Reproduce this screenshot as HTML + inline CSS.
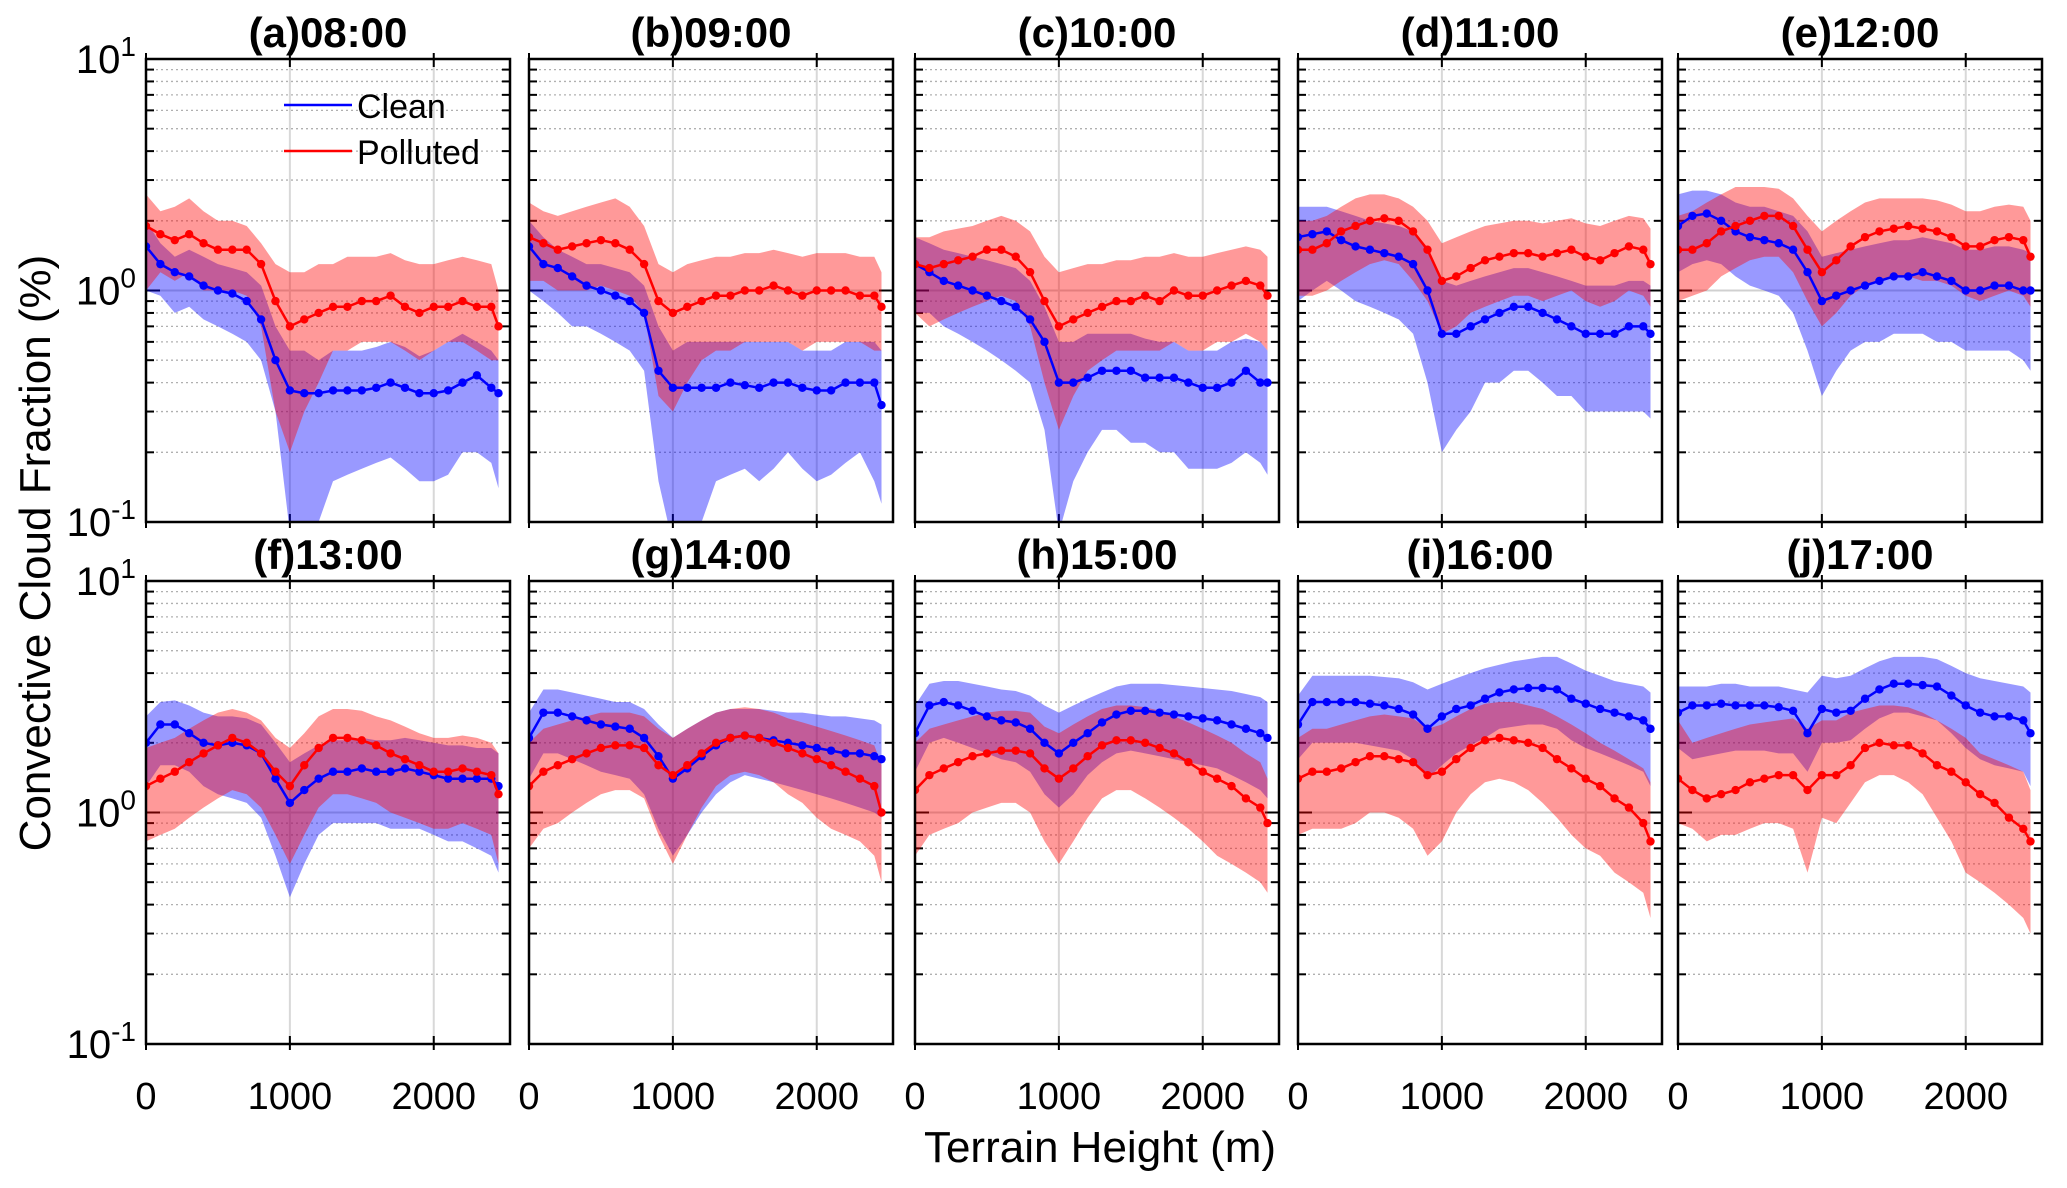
<!DOCTYPE html>
<html><head><meta charset="utf-8"><style>
body{margin:0;background:#fff}
svg{display:block;font-family:"Liberation Sans",Arial,sans-serif}
</style></head><body>
<svg id="chart" width="2067" height="1188" viewBox="0 0 2067 1188" xmlns="http://www.w3.org/2000/svg"></svg>
<script>
const heights=[0,100,200,300,400,500,600,700,800,900,1000,1100,1200,1300,1400,1500,1600,1700,1800,1900,2000,2100,2200,2300,2400,2450];
const titles=["(a)08:00","(b)09:00","(c)10:00","(d)11:00","(e)12:00","(f)13:00","(g)14:00","(h)15:00","(i)16:00","(j)17:00"];
const xTicks=[0,1000,2000];
const yTickLabels=["10","10","10"];
const yTickExp=["1","0","-1"];
const cleanMean=[
[1.55,1.3,1.2,1.15,1.05,1.0,0.97,0.9,0.75,0.5,0.37,0.36,0.36,0.37,0.37,0.37,0.38,0.4,0.38,0.36,0.36,0.37,0.4,0.43,0.38,0.36],
[1.55,1.3,1.25,1.15,1.05,1.0,0.95,0.9,0.8,0.45,0.38,0.38,0.38,0.38,0.4,0.39,0.38,0.4,0.4,0.38,0.37,0.37,0.4,0.4,0.4,0.32],
[1.3,1.2,1.1,1.05,1.0,0.95,0.9,0.85,0.75,0.6,0.4,0.4,0.42,0.45,0.45,0.45,0.42,0.42,0.42,0.4,0.38,0.38,0.4,0.45,0.4,0.4],
[1.7,1.75,1.8,1.65,1.55,1.5,1.45,1.4,1.3,1.0,0.65,0.65,0.7,0.75,0.8,0.85,0.85,0.8,0.75,0.7,0.65,0.65,0.65,0.7,0.7,0.65],
[1.9,2.1,2.15,2.0,1.8,1.7,1.65,1.6,1.5,1.2,0.9,0.95,1.0,1.05,1.1,1.15,1.15,1.2,1.15,1.1,1.0,1.0,1.05,1.05,1.0,1.0],
[2.0,2.4,2.4,2.2,2.0,1.95,2.0,1.95,1.8,1.4,1.1,1.25,1.4,1.5,1.5,1.55,1.5,1.5,1.55,1.5,1.45,1.4,1.4,1.4,1.4,1.3],
[2.1,2.7,2.7,2.6,2.5,2.4,2.35,2.3,2.1,1.75,1.4,1.55,1.75,1.95,2.1,2.15,2.1,2.05,2.0,1.95,1.9,1.85,1.8,1.8,1.75,1.7],
[2.2,2.9,3.0,2.9,2.75,2.6,2.5,2.45,2.3,2.0,1.8,2.0,2.2,2.45,2.65,2.75,2.75,2.7,2.65,2.6,2.55,2.5,2.4,2.3,2.2,2.1],
[2.4,3.0,3.0,3.0,3.0,2.95,2.9,2.8,2.65,2.3,2.6,2.8,2.9,3.1,3.3,3.4,3.45,3.45,3.4,3.1,2.95,2.8,2.7,2.6,2.5,2.3],
[2.7,2.9,2.9,2.95,2.9,2.9,2.9,2.85,2.75,2.2,2.8,2.7,2.75,3.1,3.4,3.6,3.6,3.55,3.5,3.2,2.9,2.7,2.6,2.6,2.5,2.2]];
const cleanLo=[
[1.0,0.95,0.8,0.85,0.75,0.7,0.65,0.6,0.5,0.3,0.09,0.08,0.1,0.15,0.16,0.17,0.18,0.19,0.17,0.15,0.15,0.16,0.2,0.2,0.18,0.14],
[1.0,0.9,0.8,0.7,0.7,0.65,0.6,0.55,0.45,0.15,0.08,0.08,0.1,0.15,0.16,0.17,0.15,0.17,0.2,0.17,0.15,0.16,0.18,0.2,0.15,0.12],
[0.8,0.8,0.7,0.65,0.6,0.55,0.5,0.45,0.4,0.25,0.09,0.15,0.2,0.25,0.25,0.22,0.22,0.2,0.2,0.17,0.17,0.17,0.18,0.2,0.18,0.16],
[0.9,1.0,1.1,1.0,0.9,0.85,0.8,0.75,0.65,0.4,0.2,0.25,0.3,0.4,0.4,0.45,0.45,0.4,0.35,0.35,0.3,0.3,0.3,0.3,0.3,0.28],
[1.2,1.3,1.35,1.3,1.15,1.05,1.0,0.95,0.8,0.55,0.35,0.45,0.55,0.6,0.6,0.65,0.65,0.65,0.6,0.6,0.55,0.55,0.55,0.55,0.5,0.45],
[1.3,1.6,1.6,1.5,1.3,1.2,1.15,1.1,0.95,0.65,0.43,0.6,0.8,0.9,0.9,0.9,0.9,0.85,0.85,0.85,0.8,0.75,0.75,0.7,0.65,0.55],
[1.4,1.8,1.8,1.7,1.6,1.5,1.45,1.4,1.2,0.85,0.65,0.8,1.0,1.2,1.35,1.45,1.4,1.35,1.3,1.25,1.2,1.15,1.1,1.05,1.0,0.95],
[1.5,2.0,2.1,2.0,1.9,1.8,1.7,1.65,1.5,1.2,1.05,1.2,1.45,1.65,1.8,1.85,1.8,1.75,1.7,1.65,1.6,1.55,1.45,1.35,1.25,1.15],
[1.7,2.0,2.0,2.0,2.0,1.95,1.9,1.85,1.7,1.4,1.6,1.8,1.95,2.1,2.3,2.35,2.4,2.4,2.3,2.05,1.9,1.8,1.7,1.6,1.5,1.3],
[1.9,1.7,1.75,1.8,1.85,1.85,1.85,1.8,1.8,1.5,2.0,2.0,2.05,2.3,2.55,2.7,2.7,2.6,2.5,2.2,1.9,1.7,1.6,1.55,1.5,1.3]];
const cleanHi=[
[2.0,1.6,1.4,1.5,1.4,1.3,1.25,1.2,1.05,0.7,0.55,0.55,0.5,0.55,0.55,0.55,0.57,0.6,0.57,0.52,0.55,0.6,0.65,0.6,0.55,0.5],
[2.0,1.7,1.5,1.4,1.3,1.3,1.25,1.2,1.05,0.7,0.55,0.6,0.6,0.6,0.6,0.6,0.6,0.6,0.6,0.55,0.55,0.55,0.6,0.6,0.6,0.55],
[1.7,1.6,1.5,1.45,1.4,1.35,1.3,1.25,1.1,0.85,0.6,0.6,0.65,0.65,0.65,0.65,0.62,0.6,0.6,0.55,0.55,0.55,0.6,0.62,0.6,0.55],
[2.3,2.3,2.3,2.2,2.1,2.0,1.95,1.9,1.8,1.5,1.1,1.05,1.1,1.15,1.2,1.25,1.25,1.2,1.15,1.1,1.05,1.05,1.05,1.1,1.1,1.05],
[2.6,2.7,2.7,2.6,2.4,2.3,2.3,2.2,2.1,1.8,1.4,1.45,1.5,1.55,1.6,1.65,1.65,1.7,1.65,1.6,1.5,1.5,1.55,1.55,1.5,1.45],
[2.6,3.0,3.05,2.9,2.7,2.6,2.6,2.55,2.4,2.0,1.65,1.8,1.95,2.05,2.05,2.1,2.05,2.05,2.1,2.05,2.0,1.95,1.95,1.9,1.9,1.8],
[2.7,3.4,3.4,3.3,3.2,3.1,3.0,3.0,2.8,2.4,2.1,2.3,2.5,2.7,2.8,2.8,2.8,2.75,2.7,2.7,2.65,2.6,2.6,2.55,2.5,2.4],
[2.9,3.6,3.7,3.7,3.6,3.5,3.4,3.35,3.2,2.9,2.7,2.9,3.1,3.3,3.5,3.6,3.6,3.6,3.55,3.5,3.45,3.4,3.35,3.25,3.15,3.0],
[3.2,3.9,3.9,3.9,3.9,3.9,3.85,3.8,3.65,3.4,3.6,3.8,4.0,4.2,4.35,4.5,4.6,4.7,4.7,4.4,4.1,3.9,3.7,3.6,3.5,3.3],
[3.5,3.5,3.5,3.6,3.6,3.5,3.5,3.5,3.4,3.3,3.9,3.8,3.9,4.2,4.5,4.7,4.7,4.7,4.6,4.3,4.0,3.8,3.7,3.6,3.5,3.3]];
const polMean=[
[1.9,1.75,1.65,1.75,1.6,1.5,1.5,1.5,1.3,0.9,0.7,0.75,0.8,0.85,0.85,0.9,0.9,0.95,0.85,0.8,0.85,0.85,0.9,0.85,0.85,0.7],
[1.7,1.6,1.5,1.55,1.6,1.65,1.6,1.5,1.3,0.9,0.8,0.85,0.9,0.95,0.95,1.0,1.0,1.05,1.0,0.95,1.0,1.0,1.0,0.95,0.95,0.85],
[1.3,1.25,1.3,1.35,1.4,1.5,1.5,1.4,1.2,0.9,0.7,0.75,0.8,0.85,0.9,0.9,0.95,0.9,1.0,0.95,0.95,1.0,1.05,1.1,1.05,0.95],
[1.5,1.5,1.6,1.8,1.9,2.0,2.05,2.0,1.8,1.5,1.1,1.15,1.25,1.35,1.4,1.45,1.45,1.4,1.45,1.5,1.4,1.35,1.45,1.55,1.5,1.3],
[1.5,1.5,1.6,1.8,1.9,2.0,2.1,2.1,1.9,1.5,1.2,1.35,1.55,1.7,1.8,1.85,1.9,1.85,1.8,1.7,1.55,1.55,1.65,1.7,1.65,1.4],
[1.3,1.4,1.5,1.65,1.8,1.95,2.1,2.0,1.8,1.5,1.3,1.6,1.9,2.1,2.1,2.05,1.95,1.8,1.7,1.6,1.5,1.5,1.55,1.5,1.45,1.2],
[1.3,1.5,1.6,1.7,1.8,1.9,1.95,1.95,1.9,1.6,1.45,1.6,1.8,2.0,2.1,2.15,2.1,2.0,1.9,1.8,1.7,1.6,1.5,1.4,1.3,1.0],
[1.25,1.45,1.55,1.65,1.75,1.8,1.85,1.85,1.8,1.55,1.4,1.55,1.75,1.95,2.05,2.05,2.0,1.9,1.8,1.65,1.5,1.4,1.3,1.15,1.05,0.9],
[1.4,1.5,1.5,1.55,1.65,1.75,1.75,1.7,1.65,1.45,1.5,1.7,1.9,2.05,2.1,2.05,2.0,1.9,1.7,1.55,1.4,1.3,1.15,1.05,0.9,0.75],
[1.4,1.25,1.15,1.2,1.25,1.35,1.4,1.45,1.45,1.25,1.45,1.45,1.6,1.9,2.0,1.95,1.95,1.8,1.6,1.5,1.35,1.2,1.1,0.95,0.85,0.75]];
const polLo=[
[1.0,1.2,1.1,1.2,1.0,1.0,1.0,0.95,0.7,0.3,0.2,0.3,0.4,0.55,0.55,0.6,0.6,0.6,0.55,0.5,0.55,0.6,0.6,0.55,0.5,0.5],
[1.1,1.1,1.0,1.0,1.0,1.05,1.0,0.95,0.8,0.35,0.3,0.4,0.5,0.55,0.55,0.6,0.6,0.6,0.6,0.55,0.6,0.6,0.6,0.6,0.55,0.55],
[0.8,0.7,0.75,0.8,0.85,0.9,0.95,0.9,0.7,0.4,0.25,0.35,0.45,0.5,0.55,0.55,0.55,0.55,0.6,0.55,0.55,0.6,0.6,0.65,0.6,0.55],
[0.95,0.95,1.0,1.1,1.2,1.3,1.35,1.3,1.1,0.9,0.65,0.7,0.8,0.85,0.9,0.95,0.95,0.9,0.95,1.0,0.9,0.85,0.9,1.0,0.95,0.85],
[0.9,0.95,1.0,1.15,1.25,1.35,1.4,1.4,1.2,0.9,0.7,0.8,0.95,1.05,1.1,1.15,1.15,1.1,1.1,1.05,0.95,0.9,0.95,1.0,0.95,0.85],
[0.75,0.8,0.85,0.95,1.05,1.15,1.25,1.2,1.05,0.8,0.6,0.8,1.05,1.2,1.2,1.15,1.1,1.0,0.95,0.9,0.85,0.85,0.9,0.85,0.8,0.6],
[0.7,0.85,0.9,1.0,1.1,1.2,1.25,1.25,1.15,0.8,0.6,0.8,1.05,1.3,1.45,1.5,1.45,1.35,1.2,1.1,0.95,0.85,0.8,0.75,0.65,0.5],
[0.65,0.8,0.85,0.9,1.0,1.05,1.1,1.1,1.0,0.75,0.6,0.75,0.95,1.15,1.25,1.25,1.15,1.05,0.95,0.85,0.75,0.65,0.6,0.55,0.5,0.45],
[0.8,0.85,0.85,0.85,0.9,1.0,1.0,0.95,0.85,0.65,0.75,1.0,1.2,1.35,1.4,1.35,1.25,1.1,0.95,0.8,0.7,0.65,0.55,0.5,0.45,0.35],
[0.9,0.85,0.75,0.8,0.8,0.85,0.9,0.9,0.85,0.55,0.95,0.9,1.1,1.35,1.45,1.45,1.35,1.2,0.95,0.75,0.55,0.5,0.45,0.4,0.35,0.3]];
const polHi=[
[2.6,2.2,2.3,2.5,2.2,2.0,2.0,1.9,1.6,1.3,1.2,1.2,1.3,1.3,1.4,1.4,1.4,1.45,1.35,1.3,1.3,1.35,1.4,1.35,1.3,1.0],
[2.4,2.2,2.1,2.2,2.3,2.4,2.5,2.3,1.9,1.3,1.2,1.3,1.35,1.4,1.4,1.45,1.45,1.5,1.45,1.4,1.45,1.45,1.45,1.4,1.4,1.2],
[1.7,1.7,1.8,1.85,1.9,2.0,2.1,2.0,1.8,1.4,1.2,1.25,1.3,1.3,1.35,1.35,1.4,1.4,1.45,1.4,1.4,1.45,1.5,1.55,1.5,1.4],
[2.0,2.0,2.1,2.3,2.5,2.6,2.6,2.5,2.3,2.0,1.6,1.7,1.8,1.9,1.95,2.0,2.0,1.95,2.0,2.05,1.95,1.9,2.0,2.1,2.05,1.85],
[2.1,2.2,2.4,2.6,2.8,2.8,2.8,2.75,2.5,2.1,1.8,2.0,2.2,2.4,2.5,2.5,2.5,2.5,2.45,2.35,2.2,2.2,2.3,2.35,2.3,2.0],
[1.9,2.0,2.1,2.3,2.5,2.7,2.8,2.7,2.5,2.1,1.9,2.2,2.6,2.8,2.8,2.75,2.6,2.5,2.35,2.2,2.1,2.1,2.15,2.1,2.0,1.8],
[2.0,2.3,2.4,2.5,2.6,2.7,2.7,2.7,2.6,2.3,2.1,2.3,2.5,2.7,2.8,2.85,2.8,2.7,2.55,2.45,2.35,2.25,2.15,2.05,1.95,1.6],
[2.0,2.3,2.4,2.5,2.6,2.7,2.75,2.75,2.7,2.35,2.2,2.4,2.6,2.8,2.9,2.9,2.85,2.75,2.6,2.45,2.3,2.15,2.0,1.8,1.65,1.4],
[2.1,2.3,2.3,2.4,2.5,2.6,2.65,2.6,2.55,2.3,2.4,2.6,2.8,2.95,3.0,3.0,2.9,2.8,2.6,2.4,2.2,2.0,1.85,1.7,1.55,1.35],
[2.5,2.0,2.1,2.2,2.3,2.4,2.45,2.5,2.55,2.3,2.5,2.5,2.7,2.8,2.9,2.9,2.85,2.7,2.5,2.3,2.1,1.8,1.7,1.6,1.5,1.25]];

const NS="http://www.w3.org/2000/svg";
const svg=document.getElementById('chart');
function mk(tag,attrs,parent,text){const e=document.createElementNS(NS,tag);for(const k in attrs)e.setAttribute(k,attrs[k]);if(text!==undefined)e.textContent=text;(parent||svg).appendChild(e);return e;}
const panelLeft=[146,529,915,1298,1678];
const panelTop=[59,581];
const PW=364,PH=463,XMAX=2530;
function xs(p,v){return panelLeft[p%5]+v/XMAX*PW;}
function ys(p,v){const t=panelTop[Math.floor(p/5)];const lv=Math.max(Math.log10(v),-1.15);return t+(1-lv)/2*PH;}

for(let p=0;p<10;p++){
  const g=mk('g',{},svg);
  
  
  const L=panelLeft[p%5],T=panelTop[Math.floor(p/5)];
  const cp=mk('clipPath',{id:'c'+p},g);mk('rect',{x:L,y:T,width:PW,height:PH},cp);
  for(let d=-1;d<1;d++){for(let m=2;m<=9;m++){const y=ys(p,m*Math.pow(10,d));
    const gl=mk('line',{x1:L,x2:L+PW,y1:y,y2:y,stroke:'#b0b0b0','stroke-width':1.3,'stroke-dasharray':'2 3'},g);
    
    mk('line',{x1:L,x2:L+8,y1:y,y2:y,stroke:'#000','stroke-width':2},g);
    mk('line',{x1:L+PW-8,x2:L+PW,y1:y,y2:y,stroke:'#000','stroke-width':2},g);}}
  const y0=ys(p,1);
  mk('line',{x1:L,x2:L+PW,y1:y0,y2:y0,stroke:'#d0d0d0','stroke-width':2},g);
  mk('line',{x1:L,x2:L+14,y1:y0,y2:y0,stroke:'#000','stroke-width':2},g);
  mk('line',{x1:L+PW-14,x2:L+PW,y1:y0,y2:y0,stroke:'#000','stroke-width':2},g);
  xTicks.forEach(v=>{const x=xs(p,v);if(v>0)mk('line',{x1:x,x2:x,y1:T,y2:T+PH,stroke:'#d8d8d8','stroke-width':2},g);
    mk('line',{x1:x,x2:x,y1:T-6,y2:T+PH+6,stroke:'#000','stroke-width':2,'stroke-dasharray':'14 '+(PH-16)},g);});
  const dg=mk('g',{'clip-path':'url(#c'+p+')'},g);
  function band(lo,hi,col,name){let d='';heights.forEach((h,i)=>{d+=(i?'L':'M')+xs(p,h).toFixed(1)+' '+ys(p,hi[i]).toFixed(1);});
    for(let i=heights.length-1;i>=0;i--)d+='L'+xs(p,heights[i]).toFixed(1)+' '+ys(p,lo[i]).toFixed(1);
    const e=mk('path',{d:d+'Z',fill:col,'fill-opacity':0.4,stroke:'none'},dg);}
  band(cleanLo[p],cleanHi[p],'#0000ff','clean-range-band');
  band(polLo[p],polHi[p],'#ff0000','polluted-range-band');
  function line(vals,col,name){const pts=heights.map((h,i)=>xs(p,h).toFixed(1)+','+ys(p,vals[i]).toFixed(1)).join(' ');
    const e=mk('polyline',{points:pts,fill:'none',stroke:col,'stroke-width':2.5},dg);
    heights.forEach((h,i)=>{const c=mk('circle',{cx:xs(p,h),cy:ys(p,vals[i]),r:4.2,fill:col},dg);});}
  line(cleanMean[p],'#0000ff','clean-line');
  line(polMean[p],'#ff0000','polluted-line');
  const fr=mk('rect',{x:L,y:T,width:PW,height:PH,fill:'none',stroke:'#000','stroke-width':2.5},g);
  
  const tt=mk('text',{x:L+PW/2,y:T-12,'text-anchor':'middle','font-size':42,'font-weight':'bold'},g,titles[p]);
  
  if(Math.floor(p/5)===1){xTicks.forEach(v=>{const t=mk('text',{x:xs(p,v),y:1109,'text-anchor':'middle','font-size':38},g,String(v));
    });}
  if(p%5===0){[1,0,-1].forEach((e,i)=>{const y=T+(1-e)/2*PH;
    const t=mk('text',{x:L-10,y:y+14,'text-anchor':'end','font-size':40},g);
    
    mk('tspan',{},t,yTickLabels[i]);mk('tspan',{dy:-17,'font-size':28},t,yTickExp[i]);});}
}
const lg=mk('g',{},svg);
mk('line',{x1:284,x2:352,y1:105,y2:105,stroke:'#0000ff','stroke-width':2.5},lg);
mk('text',{x:357,y:118,'font-size':34},lg,'Clean');
mk('line',{x1:284,x2:352,y1:151,y2:151,stroke:'#ff0000','stroke-width':2.5},lg);
mk('text',{x:357,y:164,'font-size':34},lg,'Polluted');
const yl=mk('text',{x:0,y:0,transform:'translate(50,553) rotate(-90)','text-anchor':'middle','font-size':44},svg,'Convective Cloud Fraction (%)');

const xl=mk('text',{x:1100,y:1162,'text-anchor':'middle','font-size':44},svg,'Terrain Height (m)');

</script>
</body></html>
